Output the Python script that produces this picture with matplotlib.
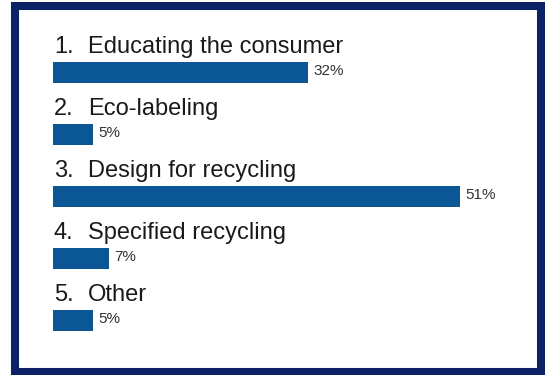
import matplotlib
matplotlib.use('Agg')
import matplotlib.pyplot as plt
from matplotlib.patches import Rectangle

numbers = ['1.', '2.', '3.', '4.', '5.']
labels = ['Educating the consumer', 'Eco-labeling', 'Design for recycling',
          'Specified recycling', 'Other']
values = [32, 5, 51, 7, 5]

bar_color = '#0b5694'
frame_color = '#0c2266'
text_color = '#1a1a1a'

plt.rcParams['font.family'] = ['Liberation Sans', 'DejaVu Sans']

fig = plt.figure(figsize=(5.45, 3.75), dpi=100)
fig.patch.set_facecolor('white')

# navy frame around the whole slide
fig.add_artist(Rectangle((15 / 545, 3.5 / 375), 526 / 545, 365.5 / 375,
                         transform=fig.transFigure, fill=False,
                         edgecolor=frame_color, linewidth=5.8))

# axes starts at the bar origin (x=53 px), one category every 62 px
ax = fig.add_axes([53 / 545, 0, 485 / 545, 1])
ax.set_xlim(0, 485 / 7.98)
ax.set_ylim(303 / 62, -72 / 62)
ax.axis('off')

pos = list(range(len(values)))
ax.barh(pos, values, height=21 / 62, color=bar_color)

for i, v in enumerate(values):
    ax.text(1 / 7.98, i - 19 / 62, numbers[i], fontsize=17, color=text_color,
            va='baseline', ha='left')
    ax.text(35 / 7.98, i - 19 / 62, labels[i], fontsize=17, color=text_color,
            va='baseline', ha='left')
    ax.text(v + 5 / 7.98, i - 1 / 62, f'{v}%', fontsize=11, color='#333333',
            va='center', ha='left')

fig.savefig('out.png', dpi=100)
